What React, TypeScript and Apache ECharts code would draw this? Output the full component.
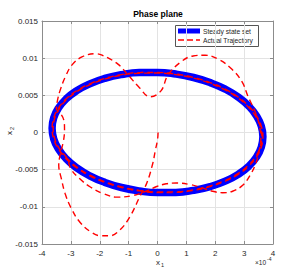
import React, { useEffect, useRef } from "react";
import * as echarts from "echarts";

// x1 values are in units of 1e-4
const xTicks = [-4, -3, -2, -1, 0, 1, 2, 3, 4];
const yTicks = [-0.015, -0.01, -0.005, 0, 0.005, 0.01, 0.015];

// Steady state set (ellipse)
const steadyX1 = [3.65, 3.595, 3.43, 3.161, 2.796, 2.346, 1.825, 1.248, 0.634, 0, -0.634, -1.248, -1.825, -2.346, -2.796, -3.161, -3.43, -3.595, -3.65, -3.595, -3.43, -3.161, -2.796, -2.346, -1.825, -1.248, -0.634, 0, 0.634, 1.248, 1.825, 2.346, 2.796, 3.161, 3.43, 3.595, 3.65, 3.595];
const steadyX2 = [-0.00057, 0.00085, 0.00223, 0.00355, 0.00476, 0.00583, 0.00671, 0.0074, 0.00786, 0.00808, 0.00806, 0.00779, 0.00728, 0.00655, 0.00563, 0.00453, 0.00329, 0.00196, 0.00057, -0.00085, -0.00223, -0.00355, -0.00476, -0.00583, -0.00671, -0.0074, -0.00786, -0.00808, -0.00806, -0.00779, -0.00728, -0.00655, -0.00563, -0.00453, -0.00329, -0.00196, -0.00057, 0.00085];

// Actual trajectory (transient part)
const trajX1 = [0.02, 0.0, -0.08, -0.16, -0.37, -0.61, -0.95, -1.3, -1.65, -1.95, -2.3, -2.7, -3.0, -3.2, -3.33, -3.42, -3.36, -3.26, -3.22, -3.24, -3.35, -3.5, -3.47, -3.37, -3.19, -2.96, -2.6, -2.15, -1.92, -1.37, -0.99, -0.64, -0.26, 0.12, 0.36, 0.81, 1.23, 1.65, 2.13, 2.58, 2.93, 3.13, 3.38, 3.52, 3.58, 3.52, 3.4, 3.2, 2.95, 2.6, 2.25, 1.9, 1.5, 1.13, 0.65, 0.3, -0.05, -0.4, -0.88, -1.4, -1.89, -2.34, -2.7, -3.0];
const trajX2 = [0.0, -0.001, -0.0025, -0.0041, -0.0068, -0.0086, -0.0113, -0.0131, -0.0139, -0.0139, -0.0134, -0.012, -0.0101, -0.0082, -0.0062, -0.0044, -0.0028, -0.0012, 0.0004, 0.0016, 0.0025, 0.0032, 0.0042, 0.0057, 0.0075, 0.0091, 0.0102, 0.0106, 0.0104, 0.0092, 0.0076, 0.0061, 0.0048, 0.0056, 0.0077, 0.0095, 0.0103, 0.0104, 0.0098, 0.0085, 0.0068, 0.0049, 0.0028, 0.0011, -0.0006, -0.0025, -0.0042, -0.0058, -0.0071, -0.0079, -0.0081, -0.0079, -0.0074, -0.007, -0.0068, -0.0069, -0.0073, -0.0079, -0.0085, -0.0087, -0.0082, -0.0073, -0.0062, -0.0049];

// Converging turns along the steady state set
const turnAX1 = [-3.129, -3.396, -3.559, -3.614, -3.559, -3.396, -3.129, -2.768, -2.323, -1.807, -1.236, -0.628, 0, 0.628, 1.236, 1.807, 2.323, 2.768, 3.129, 3.396, 3.559, 3.614, 3.559, 3.396, 3.129, 2.768, 2.323, 1.807, 1.236, 0.628, 0, -0.628, -1.236, -1.807, -2.323, -2.768, -3.129];
const turnAX2 = [-0.00351, -0.00221, -0.00084, 0.00056, 0.00194, 0.00326, 0.00448, 0.00557, 0.00648, 0.00721, 0.00771, 0.00798, 0.008, 0.00778, 0.00733, 0.00664, 0.00577, 0.00471, 0.00351, 0.00221, 0.00084, -0.00056, -0.00194, -0.00326, -0.00448, -0.00557, -0.00648, -0.00721, -0.00771, -0.00798, -0.008, -0.00778, -0.00733, -0.00664, -0.00577, -0.00471, -0.00351];
const turnBX1 = [-3.43, -3.595, -3.65, -3.595, -3.43, -3.161, -2.796, -2.346, -1.825, -1.248, -0.634, 0, 0.634, 1.248, 1.825, 2.346, 2.796, 3.161, 3.43, 3.595, 3.65, 3.595, 3.43, 3.161, 2.796, 2.346, 1.825, 1.248, 0.634, 0, -0.634, -1.248, -1.825, -2.346, -2.796, -3.161];
const turnBX2 = [-0.00223, -0.00085, 0.00057, 0.00196, 0.00329, 0.00453, 0.00563, 0.00655, 0.00728, 0.00779, 0.00806, 0.00808, 0.00786, 0.0074, 0.00671, 0.00583, 0.00476, 0.00355, 0.00223, 0.00085, -0.00057, -0.00196, -0.00329, -0.00453, -0.00563, -0.00655, -0.00728, -0.00779, -0.00806, -0.00808, -0.00786, -0.0074, -0.00671, -0.00583, -0.00476, -0.00355];

const FONT = "'Liberation Sans', Arial, Helvetica, sans-serif";
const TXT = "#262626";
const AX = "#8c8c8c";
const GRIDC = "#e3e3e3";

const pairs = (xs: number[], ys: number[]) => xs.map((x, i) => [x, ys[i]]);

export default function App() {
  const ref = useRef<HTMLDivElement>(null);
  useEffect(() => {
    if (!ref.current) return;
    const chart = echarts.init(ref.current, null, { renderer: "svg" });
    const steady = pairs(steadyX1, steadyX2);
    const traj = pairs(trajX1, trajX2)
      .concat(pairs(turnAX1, turnAX2))
      .concat(pairs(turnBX1, turnBX2))
      .concat(pairs(turnBX1, turnBX2));
    const grid = { left: 42, right: 30, top: 21, bottom: 31 };
    const sideAxis = {
      axisLine: { show: true, onZero: false, lineStyle: { color: AX, width: 1 } },
      axisTick: { show: true, inside: true, length: 3, lineStyle: { color: AX } },
    };
    chart.setOption({
      animation: false,
      backgroundColor: "#ffffff",
      grid: { ...grid, show: false },
      xAxis: [
        {
          type: "value", min: xTicks[0], max: xTicks[xTicks.length - 1], interval: 1, ...sideAxis,
          axisLabel: { color: TXT, fontSize: 8, fontFamily: FONT, margin: 5 },
          splitLine: { show: true, lineStyle: { color: GRIDC, width: 1 } },
        },
        {
          type: "value", position: "top", min: xTicks[0], max: xTicks[xTicks.length - 1], interval: 1, ...sideAxis,
          axisLabel: { show: false }, splitLine: { show: false },
        },
      ],
      yAxis: [
        {
          type: "value", min: yTicks[0], max: yTicks[yTicks.length - 1], interval: 0.005, ...sideAxis,
          axisLabel: { color: TXT, fontSize: 8, fontFamily: FONT, margin: 4, formatter: (v: number) => String(+v.toFixed(3)) },
          splitLine: { show: true, lineStyle: { color: GRIDC, width: 1 } },
        },
        {
          type: "value", position: "right", min: yTicks[0], max: yTicks[yTicks.length - 1], interval: 0.005, ...sideAxis,
          axisLabel: { show: false }, splitLine: { show: false },
        },
      ],
      series: [
        {
          type: "line", name: "Steady state set", data: steady, xAxisIndex: 0, yAxisIndex: 0,
          smooth: 0.5, showSymbol: false, symbol: "none",
          lineStyle: { color: "#0000ff", width: 7.5 },
        },
        {
          type: "line", name: "Actual Trajectory", data: traj, xAxisIndex: 0, yAxisIndex: 0,
          smooth: 0.4, showSymbol: false, symbol: "none",
          lineStyle: { color: "#ff0000", width: 1.4, type: [6, 4] },
        },
      ],
      graphic: [
        { type: "text", x: 158, y: 14, style: { text: "Phase plane", font: `bold 8.5px ${FONT}`, fill: "#000", textAlign: "center", textVerticalAlign: "middle" } },
        { type: "rect", shape: { x: 175.5, y: 25.5, width: 83, height: 21 }, style: { fill: "#ffffff", stroke: "#555", lineWidth: 1 } },
        { type: "line", shape: { x1: 178, y1: 31, x2: 200, y2: 31 }, style: { stroke: "#0000ff", lineWidth: 5 } },
        { type: "line", shape: { x1: 178, y1: 40, x2: 200, y2: 40 }, style: { stroke: "#ff0000", lineWidth: 1.5, lineDash: [6, 3] } },
        { type: "text", x: 203, y: 31, style: { text: "Steady state set", font: `6.7px ${FONT}`, fill: TXT, textAlign: "left", textVerticalAlign: "middle" } },
        { type: "text", x: 203, y: 40, style: { text: "Actual Trajectory", font: `6.7px ${FONT}`, fill: TXT, textAlign: "left", textVerticalAlign: "middle" } },
        { type: "text", x: 158, y: 262, style: { text: "x", font: `8px ${FONT}`, fill: TXT, textAlign: "center", textVerticalAlign: "middle" } },
        { type: "text", x: 161, y: 265, style: { text: "1", font: `5.5px ${FONT}`, fill: TXT, textAlign: "left", textVerticalAlign: "middle" } },
        { type: "text", x: 255, y: 262, style: { text: "×10", font: `6.5px ${FONT}`, fill: TXT, textAlign: "left", textVerticalAlign: "middle" } },
        { type: "text", x: 267, y: 259, style: { text: "-4", font: `5px ${FONT}`, fill: TXT, textAlign: "left", textVerticalAlign: "middle" } },
        {
          type: "group", x: 9, y: 133, rotation: Math.PI / 2,
          children: [
            { type: "text", x: 0, y: 0, style: { text: "x", font: `8px ${FONT}`, fill: TXT, textAlign: "center", textVerticalAlign: "middle" } },
            { type: "text", x: 3, y: 3, style: { text: "2", font: `5.5px ${FONT}`, fill: TXT, textAlign: "left", textVerticalAlign: "middle" } },
          ],
        },
      ],
    });
    return () => chart.dispose();
  }, []);
  return <div ref={ref} style={{ position: "absolute", left: 0, top: 0, width: 303, height: 275 }} />;
}
